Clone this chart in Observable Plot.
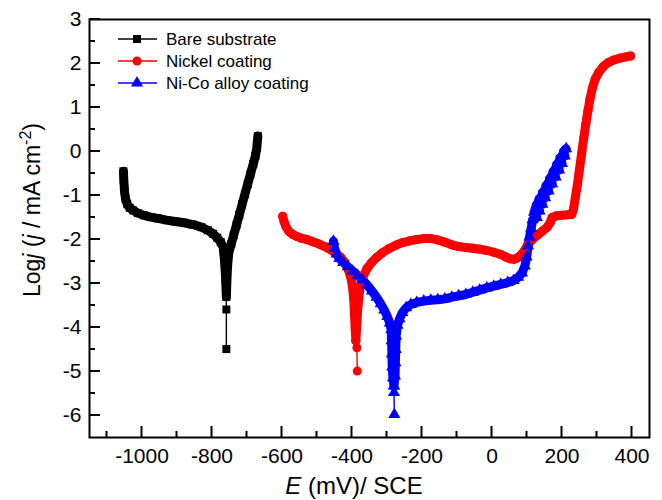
<!DOCTYPE html>
<html>
<head>
<meta charset="utf-8">
<script src="https://cdn.jsdelivr.net/npm/d3@7"></script>
<script src="https://cdn.jsdelivr.net/npm/@observablehq/plot@0.6"></script>
<style>
  html, body { margin: 0; padding: 0; background: #fff; }
  #chart svg { display: block; }
</style>
</head>
<body>
<div id="chart"></div>
<script>
// Potentiodynamic polarization curves: [E (mV vs SCE), log j (mA cm^-2)]
// Dense part of each scan (cathodic branch -> Ecorr -> anodic branch)
const bareCurve = [
  [-1053, -0.45], [-1052, -0.65], [-1050, -0.9], [-1047, -1.08], [-1042, -1.2],
  [-1035, -1.28], [-1025, -1.34], [-1012, -1.4], [-995, -1.45], [-975, -1.49],
  [-955, -1.52], [-930, -1.56], [-905, -1.59], [-880, -1.62], [-855, -1.66],
  [-830, -1.72], [-812, -1.79], [-797, -1.87], [-785, -1.96], [-775, -2.06],
  [-768, -2.18], [-764, -2.5], [-761, -2.9], [-759, -3.3], [-757, -2.85],
  [-755, -2.55], [-752, -2.3], [-745, -2.1], [-738, -1.9], [-730, -1.67],
  [-722, -1.44], [-714, -1.2], [-706, -0.97], [-698, -0.74], [-690, -0.51],
  [-682, -0.28], [-676, -0.1], [-672, 0.08], [-669, 0.35]
];
const nickelCurve = [
  [-598, -1.47], [-594, -1.6], [-588, -1.72], [-580, -1.82], [-570, -1.88],
  [-558, -1.93], [-545, -1.97], [-529, -2.0], [-512, -2.05], [-495, -2.1],
  [-478, -2.16], [-462, -2.23], [-447, -2.31], [-433, -2.4], [-421, -2.52],
  [-412, -2.66], [-405, -2.82], [-399, -3.05], [-395, -3.35], [-393, -3.7],
  [-391, -4.0], [-389, -4.3], [-386, -3.9], [-383, -3.5], [-378, -3.15],
  [-373, -2.95], [-366, -2.8], [-357, -2.66], [-345, -2.53], [-330, -2.41],
  [-313, -2.3], [-295, -2.21], [-275, -2.13], [-255, -2.07], [-235, -2.03],
  [-215, -2.0], [-195, -1.98], [-175, -1.98], [-155, -2.01], [-135, -2.06],
  [-115, -2.12], [-95, -2.16], [-75, -2.18], [-55, -2.2], [-35, -2.22],
  [-15, -2.25], [5, -2.29], [25, -2.34], [40, -2.4], [52, -2.44],
  [62, -2.45], [72, -2.42], [82, -2.36], [92, -2.26], [102, -2.12],
  [115, -2.0], [130, -1.9], [145, -1.8], [158, -1.72], [166, -1.62],
  [172, -1.5], [185, -1.46], [200, -1.45], [215, -1.44], [228, -1.43],
  [233, -1.3], [238, -1.05], [244, -0.75], [250, -0.4], [256, -0.05],
  [262, 0.3], [268, 0.62], [274, 0.92], [280, 1.2], [287, 1.45],
  [295, 1.65], [305, 1.8], [318, 1.93], [332, 2.02], [348, 2.08],
  [365, 2.12], [382, 2.15], [396, 2.17]
];
const nicoCurve = [
  [-453, -2.04], [-450, -2.2], [-444, -2.33], [-436, -2.43], [-425, -2.52],
  [-412, -2.62], [-398, -2.72], [-384, -2.82], [-370, -2.92], [-356, -3.04],
  [-343, -3.17], [-330, -3.31], [-318, -3.46], [-308, -3.6], [-299, -3.75],
  [-292, -3.9], [-288, -4.05], [-287, -4.3], [-286, -4.6], [-285, -4.9],
  [-283, -5.15], [-280, -5.33], [-277, -5.1], [-276, -4.8], [-275, -4.5],
  [-274, -4.2], [-270, -3.95], [-264, -3.8], [-256, -3.66], [-245, -3.55], [-232, -3.48],
  [-215, -3.43], [-195, -3.4], [-175, -3.38], [-155, -3.37], [-135, -3.35],
  [-115, -3.31], [-95, -3.28], [-75, -3.25], [-55, -3.2], [-35, -3.15],
  [-15, -3.1], [5, -3.06], [25, -3.02], [45, -2.98], [62, -2.93],
  [75, -2.86], [86, -2.76], [94, -2.6], [99, -2.4], [103, -2.15],
  [107, -1.95], [112, -1.75], [116, -1.55], [128, -1.5], [120, -1.38],
  [136, -1.35], [126, -1.22], [144, -1.2], [134, -1.08], [152, -1.05],
  [144, -0.93], [162, -0.9], [154, -0.78], [172, -0.74], [164, -0.62],
  [182, -0.58], [174, -0.46], [192, -0.42], [184, -0.3], [200, -0.27],
  [194, -0.14], [208, -0.1], [204, 0.0], [212, 0.06]
];

// Sparse points around the corrosion potential (joined by a thin line)
const bareTail = [[-759, -3.3], [-759, -3.59], [-759, -4.49]];
const nickelTail = [[-389, -4.3], [-386, -4.46], [-385, -4.99]];
const nicoTail = [[-280, -5.33], [-280, -5.48], [-279, -5.98]];

const seriesNames = ["Bare substrate", "Nickel coating", "Ni-Co alloy coating"];
const seriesColors = ["#000000", "#ff0000", "#0000ff"];
const seriesSymbols = ["square", "circle", "triangle"];

const xMajorTicks = [-1000, -800, -600, -400, -200, 0, 200, 400];
const xMinorTicks = [-1100, -900, -700, -500, -300, -100, 100, 300];
const yMajorTicks = [-6, -5, -4, -3, -2, -1, 0, 1, 2, 3];
const yMinorTicks = [-5.5, -4.5, -3.5, -2.5, -1.5, -0.5, 0.5, 1.5, 2.5];

const curves = [bareCurve, nickelCurve, nicoCurve];
const tails = [bareTail, nickelTail, nicoTail];

const toRows = (lists) => lists.flatMap((pts, i) =>
  pts.map(([E, logJ]) => ({series: seriesNames[i], E, logJ})));
const denseRows = toRows(curves);
const tailRows = toRows(tails);
const allRows = denseRows.concat(tailRows);

const font = "'Liberation Sans', Arial, Helvetica, sans-serif";
const margin = {left: 89, right: 13, top: 19, bottom: 63};

const chart = Plot.plot({
  width: 662,
  height: 500,
  marginLeft: margin.left,
  marginRight: margin.right,
  marginTop: margin.top,
  marginBottom: margin.bottom,
  style: {fontFamily: font, fontSize: "21px", color: "#000", background: "#fff", overflow: "visible"},
  x: {domain: [-1150, 450], label: null},
  y: {domain: [-6.5, 3], label: null},
  color: {domain: seriesNames, range: seriesColors},
  symbol: {domain: seriesNames, range: seriesSymbols},
  marks: [
    // tick labels
    Plot.axisX(xMajorTicks, {tickSize: 0, tickPadding: 11, tickFormat: d => String(d), label: null, fill: "#000"}),
    Plot.axisY(yMajorTicks, {tickSize: 0, tickPadding: 8, tickFormat: d => String(d), label: null, fill: "#000"}),
    Plot.line(tailRows, {x: "E", y: "logJ", z: "series", stroke: "series", strokeWidth: 1.4}),
    ...seriesNames.map(name =>
      Plot.line(denseRows, {filter: d => d.series === name, x: "E", y: "logJ", stroke: "series",
        strokeWidth: 9, strokeLinejoin: "round", strokeLinecap: "round"})),
    Plot.dot(allRows, {x: "E", y: "logJ", symbol: "series", fill: "series", r: 4.5}),
    Plot.frame({stroke: "#000", strokeWidth: 2})
  ]
});

document.getElementById("chart").appendChild(chart);

const svg = d3.select(chart);
const xScale = chart.scale("x");
const yScale = chart.scale("y");
const bottom = 500 - margin.bottom;
const left = margin.left;

// Inward tick marks on the bottom and left axes
const ticks = svg.append("g").attr("stroke", "#000").attr("stroke-width", 2);
[[xMajorTicks, 11], [xMinorTicks, 6]].forEach(([vals, len]) => {
  vals.forEach(v => {
    const px = xScale.apply(v);
    ticks.append("line").attr("x1", px).attr("x2", px).attr("y1", bottom).attr("y2", bottom - len);
  });
});
[[yMajorTicks, 11], [yMinorTicks, 6]].forEach(([vals, len]) => {
  vals.forEach(v => {
    const py = yScale.apply(v);
    ticks.append("line").attr("x1", left).attr("x2", left + len).attr("y1", py).attr("y2", py);
  });
});

// Legend
const legend = svg.append("g").attr("font-family", font).attr("font-size", 17)
  .attr("text-anchor", "start");
seriesNames.forEach((name, i) => {
  const y = 39 + i * 22;
  legend.append("line").attr("x1", 118).attr("x2", 157).attr("y1", y).attr("y2", y)
    .attr("stroke", seriesColors[i]).attr("stroke-width", 1.6);
  const symType = {square: d3.symbolSquare, circle: d3.symbolCircle, triangle: d3.symbolTriangle}[seriesSymbols[i]];
  legend.append("path").attr("transform", `translate(137,${y})`)
    .attr("d", d3.symbol(symType, Math.PI * 4.5 * 4.5)())
    .attr("fill", seriesColors[i]);
  legend.append("text").attr("x", 166).attr("y", y).attr("dy", "0.35em")
    .attr("fill", "#000").text(name);
});

// Axis titles
const xTitle = svg.append("text").attr("x", 354).attr("y", 494)
  .attr("text-anchor", "middle").attr("font-family", font).attr("font-size", 24).attr("fill", "#000");
xTitle.append("tspan").attr("font-style", "italic").text("E");
xTitle.append("tspan").text(" (mV)/ SCE");

const yTitle = svg.append("text").attr("transform", "translate(40,210) rotate(-90)")
  .attr("text-anchor", "middle").attr("font-family", font).attr("font-size", 23).attr("fill", "#000");
yTitle.append("tspan").text("Log");
yTitle.append("tspan").attr("font-style", "italic").text("j");
yTitle.append("tspan").text(" (");
yTitle.append("tspan").attr("font-style", "italic").text("j");
yTitle.append("tspan").text(" / mA cm");
yTitle.append("tspan").attr("font-size", 16).attr("dy", -9).text("-2");
yTitle.append("tspan").attr("dy", 9).text(")");
</script>
</body>
</html>
